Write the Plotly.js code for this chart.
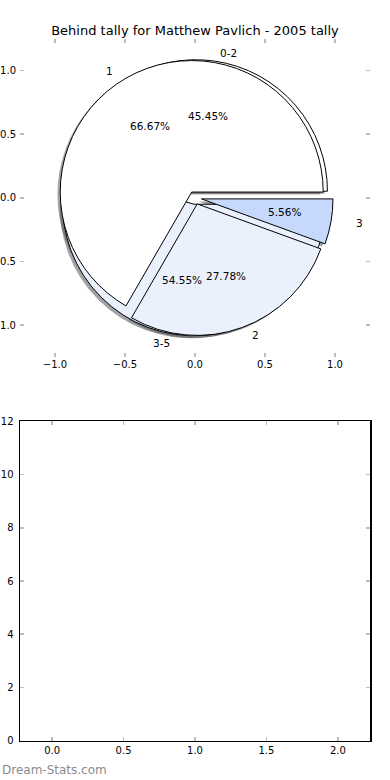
<!DOCTYPE html>
<html><head><meta charset="utf-8">
<script src="https://cdn.plot.ly/plotly-3.0.1.min.js"></script>
<style>html,body{margin:0;padding:0;background:#fff}#chart{width:390px;height:780px}</style>
</head><body><div id="chart"></div>
<script>
const titleText = 'Behind tally for Matthew Pavlich - 2005 tally';
const outerLabels = ['0-2', '3-5'];
const outerValues = [5, 6];
const outerColors = ['#ffffff', '#eaf1fd'];
const innerLabels = ['1', '2', '3'];
const innerValues = [12, 5, 1];
const innerColors = ['#ffffff', '#eaf1fd', '#c6d9fd'];
const pieTicks = [-1.0, -0.5, 0.0, 0.5, 1.0];
const barXTicks = [0.0, 0.5, 1.0, 1.5, 2.0];
const barYTicks = [0, 2, 4, 6, 8, 10, 12];
const watermark = 'Dream-Stats.com';

const W = 390, H = 780, ML = 20, MR = 20;
const PW = W - ML - MR, PH = H;
const explode = 0.05;
const FONT = 'DejaVu Sans, sans-serif';

// top panel pixel box
const topBox = {x0: 20, x1: 370, y0: 38.5, y1: 357};
const botBox = {x0: 20, x1: 370, y0: 421.3, y1: 740.7};
const yDom = b => [1 - b.y1 / H, 1 - b.y0 / H];

// pie geometry (circle centred on data origin)
const cx = 195, cy = (topBox.y0 + topBox.y1) / 2, R = 131.5;
const half = R * (1 + explode);
function pieDomain(dxPx, dyPx) {
  return {
    x: [(cx + dxPx - half - ML) / PW, (cx + dxPx + half - ML) / PW],
    y: [1 - (cy + dyPx + half) / PH, 1 - (cy + dyPx - half) / PH]
  };
}
const rev = a => a.slice().reverse();
function shade(hex) {
  const n = parseInt(hex.slice(1), 16);
  const r = Math.round(((n >> 16) & 255) * 0.3), g = Math.round(((n >> 8) & 255) * 0.3), b = Math.round((n & 255) * 0.3);
  return `rgba(${r},${g},${b},0.5)`;
}
function pieTrace(labels, values, colors, isShadow) {
  const dom = isShadow ? pieDomain(-2.8, 2.55) : pieDomain(0, 0);
  return {
    type: 'pie', labels: rev(labels), values: rev(values), sort: false,
    direction: 'clockwise', rotation: 90,
    pull: values.map(() => explode),
    marker: {colors: rev(colors).map(c => isShadow ? shade(c) : c),
             line: {color: isShadow ? 'rgba(0,0,0,0)' : '#000000', width: isShadow ? 0 : 1}},
    textinfo: 'none', hoverinfo: 'skip', showlegend: false, domain: dom
  };
}

// text annotations placed as matplotlib does (pctdistance 0.6, labeldistance 1.1)
function pieTexts(labels, values) {
  const total = values.reduce((a, b) => a + b, 0);
  const out = [];
  let theta1 = 0;
  values.forEach((v, i) => {
    const theta2 = theta1 + 360 * v / total;
    const tm = Math.PI * (theta1 + theta2) / 360;
    const x0 = explode * Math.cos(tm), y0 = explode * Math.sin(tm);
    const xt = x0 + 1.1 * Math.cos(tm), yt = y0 + 1.1 * Math.sin(tm);
    out.push({x: xt, y: yt, xref: 'x', yref: 'y', text: labels[i], showarrow: false,
              xanchor: xt > 0 ? 'left' : 'right', yanchor: 'middle',
              font: {family: FONT, size: 10.5, color: '#000'}});
    const xp = x0 + 0.6 * Math.cos(tm), yp = y0 + 0.6 * Math.sin(tm);
    out.push({x: xp, y: yp, xref: 'x', yref: 'y', text: (100 * v / total).toFixed(2) + '%', showarrow: false,
              xanchor: 'center', yanchor: 'middle', font: {family: FONT, size: 10.5, color: '#000'}});
    theta1 = theta2;
  });
  return out;
}

const data = [
  pieTrace(outerLabels, outerValues, outerColors, true),
  pieTrace(innerLabels, innerValues, innerColors, true),
  pieTrace(outerLabels, outerValues, outerColors, false),
  pieTrace(innerLabels, innerValues, innerColors, false),
  {type: 'scatter', x: [], y: [], xaxis: 'x', yaxis: 'y', showlegend: false, hoverinfo: 'skip'},
  {type: 'scatter', x: [], y: [], xaxis: 'x2', yaxis: 'y2', showlegend: false, hoverinfo: 'skip'}
];

const tickFont = {family: FONT, size: 10, color: '#000'};
const baseAxis = {showgrid: false, zeroline: false, ticks: 'inside', ticklen: 4, tickwidth: 1.5,
                  tickcolor: '#bdbdbd', mirror: 'ticks', tickfont: tickFont, fixedrange: true};
const fmt1 = v => (v < 0 ? '\u2212' : '') + Math.abs(v).toFixed(1);

const layout = {
  width: W, height: H, margin: {l: ML, r: MR, t: 0, b: 0},
  paper_bgcolor: '#fff', plot_bgcolor: 'rgba(0,0,0,0)',
  title: {text: titleText, x: 0.5, xanchor: 'center', y: 1 - 30 / H, yanchor: 'middle',
          font: {family: FONT, size: 13, color: '#000'}},
  xaxis: Object.assign({}, baseAxis, {domain: [0, 1], anchor: 'y', range: [-1.25, 1.25],
          tickvals: pieTicks, ticktext: pieTicks.map(fmt1), showline: false}),
  yaxis: Object.assign({}, baseAxis, {domain: yDom(topBox), anchor: 'x', range: [-1.25, 1.25],
          tickvals: pieTicks, ticktext: pieTicks.map(fmt1), showline: false, ticklabelstandoff: 3}),
  xaxis2: Object.assign({}, baseAxis, {domain: [0, 1], anchor: 'y2', range: [-0.225, 2.225],
          tickvals: barXTicks, ticktext: barXTicks.map(v => v.toFixed(1)),
          showline: true, linecolor: '#000', linewidth: 1.5, mirror: 'allticks'}),
  yaxis2: Object.assign({}, baseAxis, {domain: yDom(botBox), anchor: 'x2', range: [0, 12],
          tickvals: barYTicks, ticktext: barYTicks.map(String),
          showline: true, linecolor: '#000', linewidth: 1.5, mirror: 'allticks', ticklabelstandoff: 3}),
  annotations: pieTexts(outerLabels, outerValues).concat(pieTexts(innerLabels, innerValues)).concat([
    {text: watermark, xref: 'paper', yref: 'paper', x: -ML / PW, y: 1 - 770 / H, xanchor: 'left', yanchor: 'middle',
     showarrow: false, font: {family: FONT, size: 12, color: '#8c8c8c'}}
  ])
};

Plotly.newPlot('chart', data, layout, {staticPlot: true, displayModeBar: false});
</script></body></html>
